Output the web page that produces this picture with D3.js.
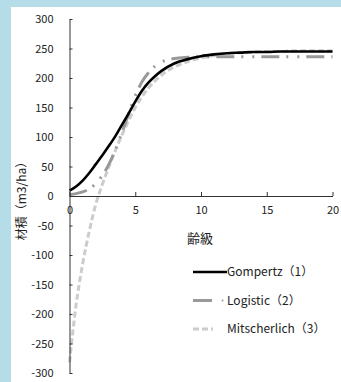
<!DOCTYPE html>
<html>
<head>
<meta charset="utf-8">
<script src="https://cdn.jsdelivr.net/npm/d3@7"></script>
<style>
  html, body { margin: 0; padding: 0; background: #b4dde7; }
  svg { display: block; }
  text { font-family: "Noto Sans CJK JP", "DejaVu Sans", sans-serif; fill: #222; }
</style>
</head>
<body>
<svg id="chart" width="341" height="382"></svg>
<script>
// ages (齢級) sampled along the curves
const ages = [0, 0.5, 1, 1.5, 2, 2.5, 3, 3.5, 4, 4.5, 5, 5.5, 6, 6.5, 7, 8, 9, 10, 11, 12, 13, 14, 15, 16, 17, 18, 19, 20];

// volume (m3/ha)
const gompertz = [9, 16, 26, 39, 54, 69, 85, 102, 121, 140, 160, 178, 192, 203, 212, 225, 232, 237, 240, 242, 243, 244, 244, 245, 245, 245, 245, 245];
const logistic = [2, 4, 7, 12, 21, 35, 54, 79, 108, 140, 170, 193, 209, 220, 227, 233, 235, 236, 236, 236, 236, 236, 236, 236, 236, 236, 236, 236];
const mitscherlich = [-282, -185, -115, -60, -14, 20, 50, 78, 104, 128, 150, 168, 183, 195, 205, 219, 228, 234, 238, 241, 243, 244, 245, 245, 246, 246, 246, 246];

const seriesNames = ['Gompertz（1）', 'Logistic（2）', 'Mitscherlich（3）'];
const xTicks = [0, 5, 10, 15, 20];
const yTicks = [-300, -250, -200, -150, -100, -50, 0, 50, 100, 150, 200, 250, 300];

const xTitle = '齢級';
const yTitle = '材積（m3/ha）';

// drawing styles per series
const styles = [
  {stroke: '#000', width: 2.6, dash: null, legendDash: null, legendLen: 34},
  {stroke: '#999', width: 3, dash: '18,7,2,9,2,7', legendDash: null, legendLen: 19},
  {stroke: '#ccc', width: 3, dash: '6,3', legendDash: '6,3', legendLen: 20}
];

const svg = d3.select('#chart');

// white panel
svg.append('rect')
  .attr('x', 11).attr('y', 7)
  .attr('width', 341 - 11).attr('height', 382 - 7)
  .attr('fill', '#fff');

const x = d3.scaleLinear().domain([0, 20]).range([69.5, 332.5]);
const y = d3.scaleLinear().domain([-300, 300]).range([373, 19]);

const series = [gompertz, logistic, mitscherlich].map((vals, i) => ({
  name: seriesNames[i],
  style: styles[i],
  points: ages.map((a, j) => [a, vals[j]])
}));

const line = d3.line()
  .curve(d3.curveMonotoneX)
  .x(d => x(d[0]))
  .y(d => y(d[1]));

// curves (draw lightest first)
svg.append('g')
  .selectAll('path')
  .data(series.slice().reverse())
  .enter().append('path')
  .attr('d', d => line(d.points))
  .attr('fill', 'none')
  .attr('stroke', d => d.style.stroke)
  .attr('stroke-width', d => d.style.width)
  .attr('stroke-dasharray', d => d.style.dash);

// y axis
const yAxis = svg.append('g')
  .attr('transform', 'translate(' + x(0) + ',0)')
  .call(d3.axisLeft(y).tickValues(yTicks).tickSizeInner(-3).tickSizeOuter(0).tickPadding(16)
    .tickFormat(d => d < 0 ? '-' + Math.abs(d) : d));
yAxis.selectAll('text').style('font-size', '11px');

// x axis
const xAxis = svg.append('g')
  .attr('transform', 'translate(0,' + y(0) + ')')
  .call(d3.axisBottom(x).tickValues(xTicks).tickSizeInner(-4).tickSizeOuter(0).tickPadding(10));
xAxis.selectAll('text').style('font-size', '11px');

svg.selectAll('.domain, .tick line').attr('stroke', '#333');

// axis titles
svg.append('text')
  .attr('x', 200).attr('y', 243)
  .attr('text-anchor', 'middle')
  .style('font-size', '13px')
  .text(xTitle);

svg.append('text')
  .attr('transform', 'translate(26,198) rotate(-90)')
  .attr('text-anchor', 'middle')
  .style('font-size', '12px')
  .text(yTitle);

// legend
const legend = svg.append('g')
  .selectAll('g')
  .data(series)
  .enter().append('g')
  .attr('transform', (d, i) => 'translate(193,' + (272 + i * 28.5) + ')');

legend.append('line')
  .attr('x1', 0).attr('x2', d => d.style.legendLen)
  .attr('stroke', d => d.style.stroke)
  .attr('stroke-width', d => d.style.width)
  .attr('stroke-dasharray', d => d.style.legendDash);

legend.filter((d, i) => i === 1).append('circle')
  .attr('cx', 29.5).attr('cy', 0).attr('r', 1)
  .attr('fill', '#999');

legend.append('text')
  .attr('x', 34).attr('y', 4)
  .style('font-size', '12px')
  .text(d => d.name);
</script>
</body>
</html>
